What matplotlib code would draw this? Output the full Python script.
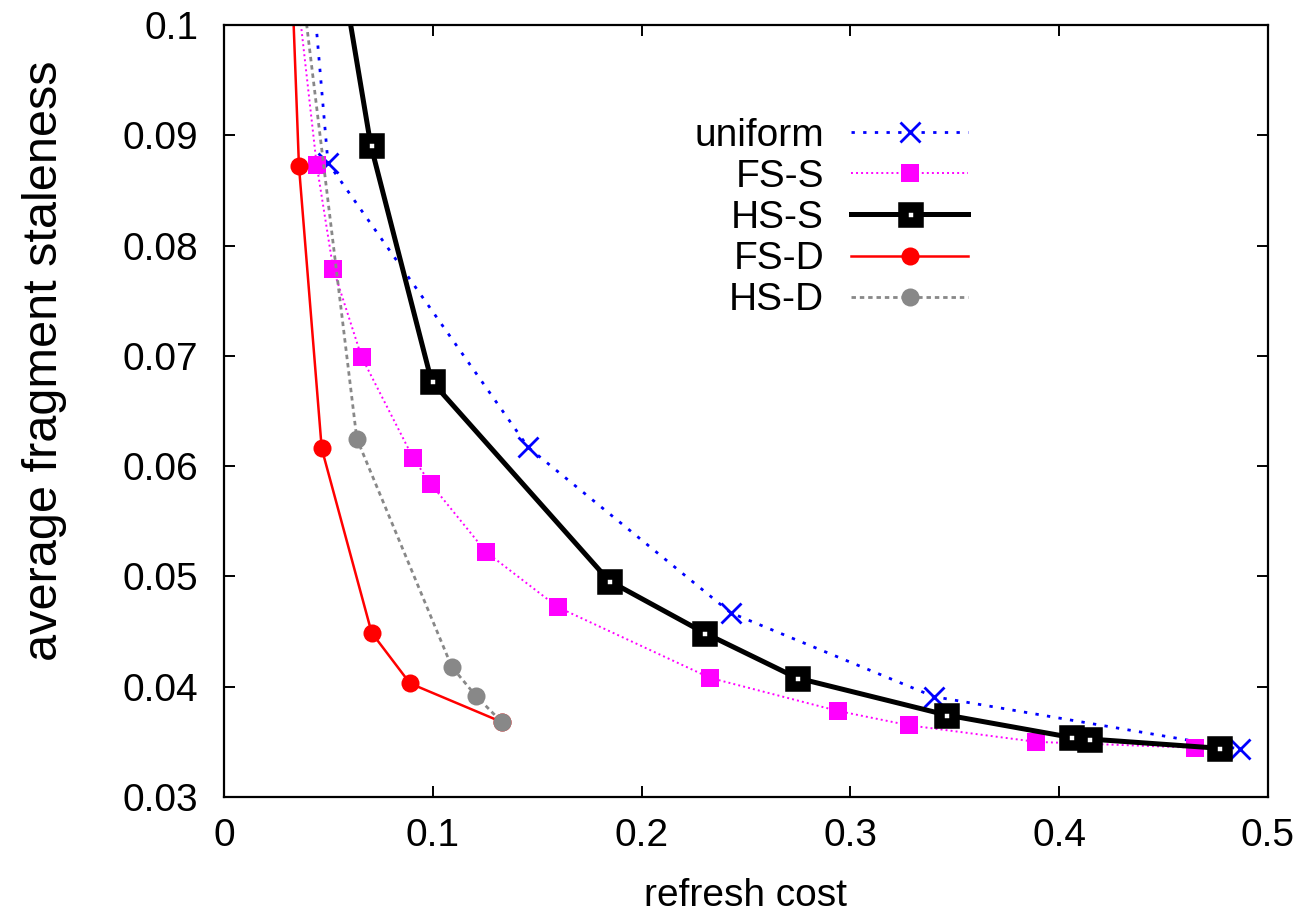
import matplotlib
matplotlib.use("Agg")
import matplotlib.pyplot as plt
from matplotlib.markers import MarkerStyle

plt.rcParams['font.family'] = ['Liberation Sans', 'DejaVu Sans']

# ---- data ----
uniform_x = [0.035, 0.0498, 0.1457, 0.2427, 0.3400, 0.4866]
uniform_y = [0.120, 0.0875, 0.0617, 0.0467, 0.0391, 0.03435]

fss_x = [0.025, 0.0444, 0.0523, 0.0659, 0.0907, 0.0990, 0.1256, 0.1600,
         0.2328, 0.2941, 0.3281, 0.3890, 0.4649]
fss_y = [0.120, 0.0873, 0.0779, 0.0699, 0.0607, 0.0584, 0.0522, 0.0472,
         0.0408, 0.0378, 0.0365, 0.0350, 0.03447]

hss_x = [0.043, 0.0703, 0.0994, 0.1844, 0.2299, 0.2743, 0.3459, 0.4055, 0.4143, 0.4765]
hss_y = [0.120, 0.0891, 0.0677, 0.0496, 0.0449, 0.0408, 0.03744, 0.03541, 0.03526, 0.03442]

fsd_x = [0.0294, 0.0359, 0.0468, 0.0707, 0.0891, 0.1330]
fsd_y = [0.120, 0.0872, 0.0616, 0.0449, 0.0403, 0.0368]

hsd_x = [0.0332, 0.0636, 0.1091, 0.1205, 0.1330]
hsd_y = [0.110, 0.0625, 0.0418, 0.0392, 0.0368]

series_labels = ["uniform", "FS-S", "HS-S", "FS-D", "HS-D"]

xticks = [0, 0.1, 0.2, 0.3, 0.4, 0.5]
xticklabels = ["0", "0.1", "0.2", "0.3", "0.4", "0.5"]
yticks = [0.03, 0.04, 0.05, 0.06, 0.07, 0.08, 0.09, 0.1]
yticklabels = ["0.03", "0.04", "0.05", "0.06", "0.07", "0.08", "0.09", "0.1"]

W, H = 1306, 916
fig = plt.figure(figsize=(W / 100, H / 100), dpi=100)
ax = fig.add_axes([224 / W, 1 - 797 / H, (1268 - 224) / W, (797 - 25) / H])

ax.plot(uniform_x, uniform_y, color='#0000ff', lw=2.0, linestyle=(0, (1.2, 3.0)),
        marker='x', ms=14, mew=2.0, label=series_labels[0])
ax.plot(fss_x, fss_y, color='#ff00ff', lw=1.4, linestyle=(0, (1.0, 1.6)),
        marker=MarkerStyle('s', joinstyle='miter'), ms=13.5, mew=0,
        mfc='#ff00ff', label=series_labels[1])
ax.plot(hss_x, hss_y, color='black', lw=3.6, linestyle='-',
        marker=MarkerStyle('s', joinstyle='miter'), ms=10.8, mew=7.6,
        mfc='white', mec='black', label=series_labels[2])
ax.plot(fsd_x, fsd_y, color='#ff0000', lw=1.8, linestyle='-',
        marker='o', ms=13, mew=0, mfc='#ff0000', label=series_labels[3])
ax.plot(hsd_x, hsd_y, color='#888888', lw=2.0, linestyle=(0, (1.6, 1.4)),
        marker='o', ms=13, mew=0, mfc='#888888', label=series_labels[4])

ax.set_xlim(0, 0.5)
ax.set_ylim(0.03, 0.1)
ax.set_xticks(xticks)
ax.set_xticklabels(xticklabels)
ax.set_yticks(yticks)
ax.set_yticklabels(yticklabels)

for s in ax.spines.values():
    s.set_linewidth(1.6)
ax.tick_params(axis='both', direction='in', length=8, width=1.4,
               top=True, right=True, labelsize=28)
ax.tick_params(axis='y', pad=18.5)
ax.tick_params(axis='x', pad=15)

ax.set_xlabel("refresh cost", fontsize=28)
ax.set_ylabel("average fragment staleness", fontsize=35)
ax.xaxis.set_label_coords(0.5, -0.105)
ax.yaxis.set_label_coords(-0.15, 0.565)

leg = ax.legend(loc='upper right', bbox_to_anchor=(968 / W, 1 - 118 / H),
                bbox_transform=fig.transFigure, frameon=False, fontsize=28,
                markerfirst=False, handlelength=3.0, handletextpad=0.7,
                labelspacing=0.13, borderpad=0, borderaxespad=0)

fig.savefig("out.png", dpi=100)
